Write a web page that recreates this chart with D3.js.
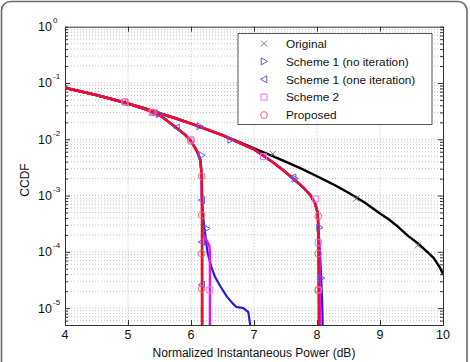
<!DOCTYPE html>
<html>
<head>
<meta charset="utf-8">
<script src="https://cdn.jsdelivr.net/npm/d3@7"></script>
<style>
  body { margin: 0; background: #fff; }
  text { font-family: "Liberation Sans", Arial, sans-serif; fill: #111; }
</style>
</head>
<body>
<div id="container"></div>
<script>
/* CONSTANTS AND GLOBALS */
const width = 470;
const height = 362;
const plot = { left: 65, right: 443, top: 26.7, bottom: 325 };

/* DATA */
const xTicks = [4, 5, 6, 7, 8, 9, 10];
const yTicks = [1, 0.1, 0.01, 0.001, 0.0001, 0.00001];
const yExponents = ["0", "-1", "-2", "-3", "-4", "-5"];
const legendNames = ["Original", "Scheme 1 (no iteration)", "Scheme 1 (one iteration)", "Scheme 2", "Proposed"];

// Original
const originalPower = [4, 4.25, 4.5, 4.75, 5, 5.25, 5.5, 5.75, 6, 6.25, 6.5, 6.75, 7, 7.25, 7.5, 7.75, 8, 8.25, 8.5, 8.75, 9, 9.15, 9.3, 9.45, 9.6, 9.75, 9.85, 9.95, 10];
const originalCcdf = [0.082, 0.071, 0.061, 0.052, 0.043, 0.036, 0.029, 0.024, 0.019, 0.015, 0.0118, 0.0091, 0.0069, 0.0053, 0.0040, 0.0030, 0.0022, 0.0016, 0.00112, 0.00076, 0.00048, 0.00037, 0.00027, 0.00019, 0.000142, 0.0001, 0.000078, 0.000053, 0.00004];
const originalMarks = [[7.3, 0.0055], [8.62, 0.00088], [9.6, 0.00013]];

// low threshold group (~6.2 dB)
const lowHeadPower = [4, 4.5, 5, 5.25, 5.5, 5.75, 5.9, 6.0, 6.1, 6.15, 6.17];
const lowHeadCcdf = [0.082, 0.061, 0.043, 0.035, 0.027, 0.0166, 0.0122, 0.0093, 0.006, 0.0042, 0.0022];
// high threshold group (~8 dB)
const highHeadPower = [4, 4.5, 5, 5.5, 6, 6.5, 7, 7.15, 7.3, 7.45, 7.62, 7.78, 7.9, 7.97, 8.01];
const highHeadCcdf = [0.082, 0.061, 0.043, 0.029, 0.019, 0.0118, 0.0066, 0.0051, 0.0039, 0.0029, 0.0020, 0.0014, 0.001, 0.00072, 0.0005];

// tails of each scheme
const proposedLowTail = [[6.175, 0.001], [6.175, 0.000005]];
const proposedHighTail = [[8.02, 0.0003], [8.025, 0.0001], [8.03, 0.000005]];
const scheme1LowTail = [[6.17, 0.001], [6.2, 0.00035], [6.26, 0.0001], [6.32, 0.000055], [6.38, 0.000036], [6.47, 0.000024], [6.57, 0.000016], [6.65, 0.0000125], [6.72, 0.0000105], [6.83, 0.00001], [6.91, 0.0000085], [6.94, 0.000005]];
const scheme1HighTail = [[8.02, 0.0003], [8.03, 0.0002], [8.06, 0.00005], [8.08, 0.000015], [8.09, 0.000005]];
const scheme1bLowTail = [[6.175, 0.001], [6.18, 0.000005]];
const scheme1bHighTail = [[8.02, 0.0003], [8.035, 0.000005]];
const scheme2LowTail = [[6.18, 0.00022], [6.29, 0.00013], [6.3, 0.0001], [6.3, 0.000005]];
const scheme2HighTail = [[8.02, 0.0003], [8.04, 0.0001], [8.05, 0.000005]];

// markers
const scheme1Marks = [[5.5, 0.028], [6.14, 0.017], [6.63, 0.0098], [6.17, 0.0052], [6.25, 0.00026], [7.65, 0.002], [8.04, 0.00027], [8.07, 0.000034]];
const scheme1bMarks = [[4.95, 0.045], [5.42, 0.029], [5.77, 0.0162], [6.17, 0.00083], [6.17, 0.00015], [6.17, 0.000026], [7.62, 0.0021]];
const scheme2Marks = [[4.95, 0.046], [5.38, 0.030], [6.0, 0.0098], [6.3, 0.000021], [7.15, 0.0049], [7.98, 0.00087], [8.02, 0.000145], [8.02, 0.000021]];
const proposedMarks = [[4.95, 0.046], [5.4, 0.030], [6.0, 0.0093], [6.17, 0.0022], [6.17, 0.00045], [6.17, 0.000093], [6.17, 0.000022], [8.02, 0.00043], [8.02, 0.000093], [8.02, 0.000021]];

/* SCALES */
const xScale = d3.scaleLinear().domain([4, 10]).range([plot.left, plot.right]);
const yScale = d3.scaleLog().domain([Math.pow(10, -5.3), 1]).range([plot.bottom, plot.top]);

/* HTML ELEMENTS */
const svg = d3.select("#container")
  .append("svg")
  .attr("width", width)
  .attr("height", height);

// outer rounded frame
svg.append("rect")
  .attr("x", 1.5).attr("y", 1.5)
  .attr("width", 465.5).attr("height", 420)
  .attr("rx", 9)
  .attr("fill", "#fff")
  .attr("stroke", "#6a6a6a")
  .attr("stroke-width", 1.6);

svg.append("clipPath").attr("id", "clip")
  .append("rect")
  .attr("x", plot.left).attr("y", plot.top)
  .attr("width", plot.right - plot.left).attr("height", plot.bottom - plot.top);

// grid
const grid = svg.append("g").attr("stroke", "#b0b0b0").attr("stroke-width", 0.8).attr("stroke-dasharray", "1,2");
const minorY = [];
for (let e = -6; e <= -1; e++) {
  for (let m = 1; m <= 9; m++) {
    const v = m * Math.pow(10, e);
    if (v >= yScale.domain()[0] && v <= 1) minorY.push(v);
  }
}
grid.selectAll("line.gy")
  .data(minorY)
  .join("line")
  .attr("class", "gy")
  .attr("x1", plot.left).attr("x2", plot.right)
  .attr("y1", d => yScale(d)).attr("y2", d => yScale(d));
grid.selectAll("line.gx")
  .data(xTicks.slice(1, -1))
  .join("line")
  .attr("class", "gx")
  .attr("x1", d => xScale(d)).attr("x2", d => xScale(d))
  .attr("y1", plot.top).attr("y2", plot.bottom);

// axes (ticks inward, box)
const axisColor = "#333";
const xAxisGroup = svg.append("g").attr("transform", `translate(0,${plot.bottom})`)
  .call(d3.axisBottom(xScale).tickValues(xTicks).tickSize(-5).tickFormat(""));
const xTopGroup = svg.append("g").attr("transform", `translate(0,${plot.top})`)
  .call(d3.axisTop(xScale).tickValues(xTicks).tickSize(-5).tickFormat(""));
const yAxisGroup = svg.append("g").attr("transform", `translate(${plot.left},0)`)
  .call(d3.axisLeft(yScale).tickValues(minorY).tickSize(-3).tickFormat(""));
const yRightGroup = svg.append("g").attr("transform", `translate(${plot.right},0)`)
  .call(d3.axisRight(yScale).tickValues(minorY).tickSize(-3).tickFormat(""));
[xAxisGroup, xTopGroup, yAxisGroup, yRightGroup].forEach(g => {
  g.select(".domain").attr("stroke", axisColor);
  g.selectAll(".tick line").attr("stroke", axisColor);
});
[yAxisGroup, yRightGroup].forEach(g => {
  g.selectAll(".tick line").filter(d => yTicks.some(t => Math.abs(t - d) / t < 1e-6))
    .attr("x2", g === yAxisGroup ? 5 : -5);
});

// tick labels
svg.append("g").selectAll("text")
  .data(xTicks)
  .join("text")
  .attr("x", d => xScale(d))
  .attr("y", 339)
  .attr("text-anchor", "middle")
  .attr("font-size", 12.5)
  .text(d => d);

const yLabels = svg.append("g").selectAll("g")
  .data(yTicks)
  .join("g")
  .attr("transform", d => `translate(52,${yScale(d)})`);
yLabels.append("text")
  .attr("x", 0).attr("y", 4.5)
  .attr("text-anchor", "end")
  .attr("font-size", 12.5)
  .text("10");
yLabels.append("text")
  .attr("x", 1).attr("y", -3.5)
  .attr("font-size", 8)
  .text((d, i) => yExponents[i]);

// axis titles
svg.append("text")
  .attr("x", 254).attr("y", 357)
  .attr("text-anchor", "middle")
  .attr("font-size", 12)
  .text("Normalized Instantaneous Power (dB)");
svg.append("text")
  .attr("transform", "translate(29,180) rotate(-90)")
  .attr("text-anchor", "middle")
  .attr("font-size", 12)
  .text("CCDF");

/* LINES */
const line = d3.line().x(d => xScale(d[0])).y(d => yScale(d[1]));
const zip = (xs, ys) => xs.map((x, i) => [x, ys[i]]);
const lowHead = zip(lowHeadPower, lowHeadCcdf);
const highHead = zip(highHeadPower, highHeadCcdf);

const curves = [
  { color: "#000", w: 2.4, data: zip(originalPower, originalCcdf) },
  { color: "#1f1fe0", w: 2.2, data: lowHead.concat(scheme1LowTail) },
  { color: "#1f1fe0", w: 2.2, data: highHead.concat(scheme1HighTail) },
  { color: "#6a3cd0", w: 2.2, data: lowHead.concat(scheme1bLowTail) },
  { color: "#6a3cd0", w: 2.2, data: highHead.concat(scheme1bHighTail) },
  { color: "#ee10e8", w: 2.4, data: lowHead.concat(scheme2LowTail) },
  { color: "#ee10e8", w: 2.4, data: highHead.concat(scheme2HighTail) },
  { color: "#e8102e", w: 2.6, data: lowHead.concat(proposedLowTail) },
  { color: "#e8102e", w: 2.6, data: highHead.concat(proposedHighTail) }
];

const lines = svg.append("g").attr("clip-path", "url(#clip)");
lines.selectAll("path")
  .data(curves)
  .join("path")
  .attr("d", d => line(d.data))
  .attr("fill", "none")
  .attr("stroke", d => d.color)
  .attr("stroke-width", d => d.w)
  .attr("stroke-linejoin", "round");

/* MARKERS */
const markerColors = ["#777", "#5a5aee", "#7a52d8", "#ee70ee", "#f06a70"];
const tri = (dir) => dir > 0 ? "M-2.8,-3.5L3.5,0L-2.8,3.5Z" : "M2.8,-3.5L-3.5,0L2.8,3.5Z";
const markerPath = [
  "M-3,-3L3,3M-3,3L3,-3",
  tri(1),
  tri(-1),
  "M-3,-3H3V3H-3Z",
  d3.symbol(d3.symbolCircle, 36)()
];
const markerSets = [originalMarks, scheme1Marks, scheme1bMarks, scheme2Marks, proposedMarks];
const marks = svg.append("g").attr("clip-path", "url(#clip)");
markerSets.forEach((set, k) => {
  marks.append("g").selectAll("path")
    .data(set)
    .join("path")
    .attr("transform", d => `translate(${xScale(d[0])},${yScale(d[1])})`)
    .attr("d", markerPath[k])
    .attr("fill", "none")
    .attr("stroke", markerColors[k])
    .attr("stroke-width", 1);
});

/* LEGEND */
const legend = svg.append("g");
legend.append("rect")
  .attr("x", 238).attr("y", 33.5)
  .attr("width", 194).attr("height", 91)
  .attr("fill", "#fff")
  .attr("stroke", "#444")
  .attr("stroke-width", 0.9);
const legendY = d3.scalePoint().domain(legendNames).range([43.5, 115]);
const items = legend.selectAll("g.item")
  .data(legendNames)
  .join("g")
  .attr("class", "item")
  .attr("transform", d => `translate(264,${legendY(d)})`);
items.append("path")
  .attr("d", (d, i) => markerPath[i])
  .attr("fill", "none")
  .attr("stroke", (d, i) => markerColors[i])
  .attr("stroke-width", 1);
items.append("text")
  .attr("x", 22).attr("y", 4.3)
  .attr("font-size", 11.8)
  .text(d => d);
</script>
</body>
</html>
